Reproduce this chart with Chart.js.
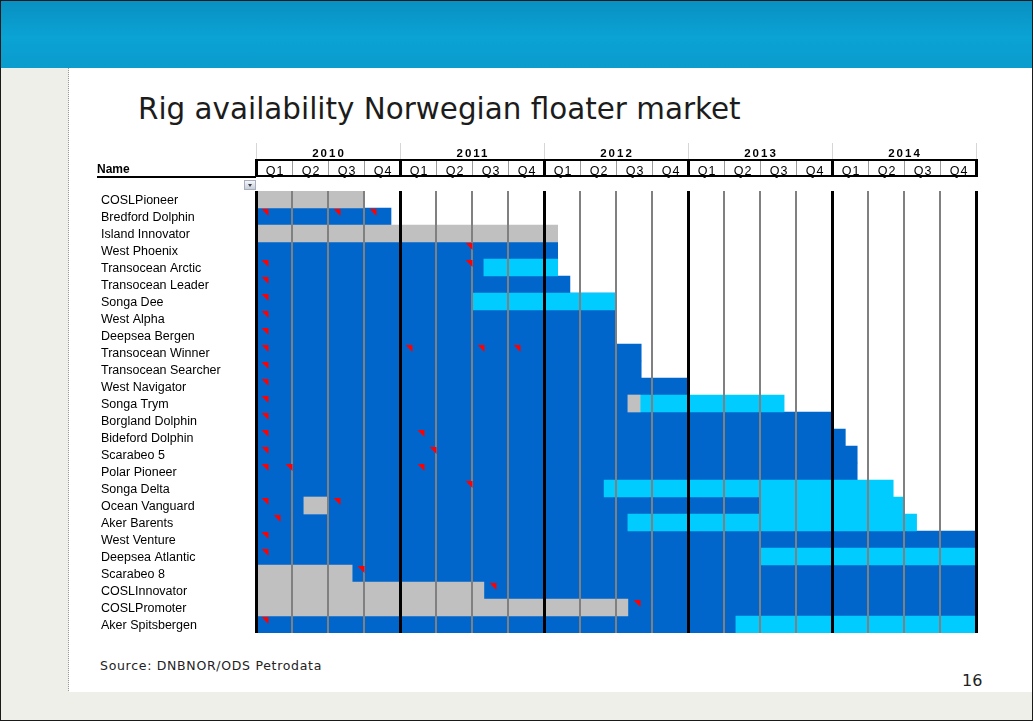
<!DOCTYPE html>
<html>
<head>
<meta charset="utf-8">
<script src="https://cdn.jsdelivr.net/npm/chart.js@4.4.1/dist/chart.umd.min.js"></script>
<style>
  html, body { margin: 0; padding: 0; }
  body { width: 1033px; height: 721px; position: relative; overflow: hidden; background: #fff; font-family: "Liberation Sans", Arial, sans-serif; }
  #banner { position: absolute; left: 0; top: 0; width: 1033px; height: 68px; background: linear-gradient(#0a8fc1, #0aa3d4 55%, #0a9ccd); }
  #leftbar { position: absolute; left: 0; top: 68px; width: 68px; height: 653px; background: #efefea; border-right: 1px dotted #9a9a9a; }
  #bottombar { position: absolute; left: 0; top: 692px; width: 1033px; height: 29px; background: #efefea; }
  #frame { position: absolute; left: 0; top: 0; width: 1031px; height: 719px; border: 1px solid #1a1a1a; }
  #title { position: absolute; left: 138px; top: 92px; font: 29.4px/34px "DejaVu Sans", Verdana, sans-serif; color: #1c1c1c; white-space: nowrap; }
  #source { position: absolute; left: 100px; top: 658px; font: 12.5px "DejaVu Sans", Verdana, sans-serif; letter-spacing: 0.7px; color: #222; }
  #page { position: absolute; left: 962px; top: 671px; font: 16px "DejaVu Sans", Verdana, sans-serif; color: #222; }
  #dropdown { position: absolute; left: 244px; top: 180px; width: 12px; height: 10px; background: linear-gradient(#f4f6fa, #c9ced8); border: 1px solid #a8aebb; box-sizing: border-box; }
  #dropdown:after { content: ""; position: absolute; left: 3px; top: 3px; border-left: 2.5px solid transparent; border-right: 2.5px solid transparent; border-top: 3px solid #3a3f4a; }
  #chart { position: absolute; left: 0; top: 0; }
</style>
</head>
<body>
<div id="banner"></div>
<div id="leftbar"></div>
<div id="bottombar"></div>
<div id="frame"></div>
<div id="title">Rig availability Norwegian floater market</div>
<div id="source">Source: DNBNOR/ODS Petrodata</div>
<div id="page">16</div>
<canvas id="chart" width="1033" height="721"></canvas>
<div id="dropdown"></div>
<script>
// rigs, top to bottom
const rigs = ['COSLPioneer', 'Bredford Dolphin', 'Island Innovator', 'West Phoenix', 'Transocean Arctic',
  'Transocean Leader', 'Songa Dee', 'West Alpha', 'Deepsea Bergen', 'Transocean Winner',
  'Transocean Searcher', 'West Navigator', 'Songa Trym', 'Borgland Dolphin', 'Bideford Dolphin',
  'Scarabeo 5', 'Polar Pioneer', 'Songa Delta', 'Ocean Vanguard', 'Aker Barents',
  'West Venture', 'Deepsea Atlantic', 'Scarabeo 8', 'COSLInnovator', 'COSLPromoter', 'Aker Spitsbergen'];

const years = ['2010', '2011', '2012', '2013', '2014'];
const quarters = ['Q1', 'Q2', 'Q3', 'Q4'];

// spans in quarters counted from 2010 Q1 start
const contractedSpans = [null, [0, 3.75], null, [0, 8.38], [0, 8.38], [0, 8.72], [0, 10], [0, 10], [0, 10],
  [0, 10.7], [0, 10.7], [0, 12], [0, 10.33], [0, 16], [0, 16.37], [0, 16.7], [0, 16.7], [0, 9.67],
  [0, 14], [0, 10.33], [0, 20], [0, 20], [0, 20], [0, 20], [0, 20], [0, 20]];
const optionSpans = [null, null, null, null, [6.33, 8.38], null, [6, 10], null, null, null, null, null,
  [10.67, 14.67], null, null, null, null, [9.67, 17.7], [14, 18], [10.33, 18.35], null, [14, 20],
  null, null, null, [13.33, 20]];
const idleSpans = [[0, 3], null, [0, 8.38], null, null, null, null, null, null, null, null, null,
  [10.33, 10.67], null, null, null, null, null, [1.33, 2], null, null, null, [0, 2.67], [0, 6.33],
  [0, 10.33], null];

// comment flags: rig row and month (1 = Jan 2010)
const flagRow =   [1, 1, 1, 3, 4, 4, 5, 6, 7, 8, 9, 9, 9, 9, 10, 11, 12, 13, 14, 14, 15, 15, 16, 16, 16, 17, 18, 18, 19, 20, 21, 22, 23, 24, 25];
const flagMonth = [1, 7, 10, 18, 1, 18, 1, 1, 1, 1, 1, 13, 19, 22, 1, 1, 1, 1, 1, 14, 1, 15, 1, 3, 14, 18, 1, 7, 2, 1, 1, 9, 20, 32, 1];

const ganttDecor = {
  id: 'ganttDecor',
  afterDraw(chart) {
    const ctx = chart.ctx;
    const x = chart.scales.x;
    const y = chart.scales.y;
    const rowH = y.getPixelForValue(1) - y.getPixelForValue(0);

    // comment flags
    ctx.save();
    ctx.fillStyle = '#ff0000';
    flagRow.forEach((r, i) => {
      const xr = Math.round(x.getPixelForValue(flagMonth[i] / 3)) + 0.5;
      const top = Math.round(y.getPixelForValue(r) - rowH / 2) + 1;
      ctx.beginPath();
      ctx.moveTo(xr - 7, top);
      ctx.lineTo(xr, top);
      ctx.lineTo(xr, top + 7);
      ctx.closePath();
      ctx.fill();
    });

    // header
    const hTop = 159, hBot = 177;
    const left = Math.round(x.getPixelForValue(0));
    const right = Math.round(x.getPixelForValue(20));
    ctx.fillStyle = '#d6d6d6';
    years.forEach((yr, i) => {
      ctx.fillRect(Math.round(x.getPixelForValue(i * 4)), 143, 1, hTop - 143);
    });
    ctx.fillRect(right, 143, 1, hTop - 143);

    ctx.fillStyle = '#fff';
    ctx.fillRect(left, hTop, right - left, hBot - hTop);
    ctx.fillStyle = '#9a9a9a';
    for (let q = 1; q < 20; q++) {
      if (q % 4 === 0) continue;
      ctx.fillRect(Math.round(x.getPixelForValue(q)), hTop, 1, hBot - hTop);
    }
    ctx.fillStyle = '#000';
    ctx.fillRect(left - 1, hTop, right - left + 3, 2);
    ctx.fillRect(left - 1, hBot - 2, right - left + 3, 2);
    for (let q = 0; q <= 20; q += 4) {
      ctx.fillRect(Math.round(x.getPixelForValue(q)) - 1, hTop, 3, hBot - hTop);
    }
    // underline under "Name"
    ctx.fillRect(97, hBot - 1, left - 97, 2);

    ctx.textBaseline = 'alphabetic';
    ctx.textAlign = 'center';
    ctx.fillStyle = '#000';
    ctx.font = 'bold 11.5px "Liberation Sans", Arial, sans-serif';
    ctx.letterSpacing = '2px';
    years.forEach((yr, i) => {
      ctx.fillText(yr, x.getPixelForValue(i * 4 + 2) + 1, 157);
    });
    ctx.font = '12.5px "Liberation Sans", Arial, sans-serif';
    ctx.letterSpacing = '1px';
    for (let q = 0; q < 20; q++) {
      ctx.fillText(quarters[q % 4], x.getPixelForValue(q + 0.5) + 1, 175);
    }
    ctx.letterSpacing = '0px';
    ctx.textAlign = 'left';
    ctx.font = 'bold 12px "Liberation Sans", Arial, sans-serif';
    ctx.fillText('Name', 97, 173);
    ctx.restore();
  }
};

const barBase = { borderWidth: 0, barPercentage: 1, categoryPercentage: 1 };

new Chart(document.getElementById('chart'), {
  type: 'bar',
  data: {
    labels: rigs,
    datasets: [
      { ...barBase, label: 'Idle', data: idleSpans, backgroundColor: '#c0c0c0', order: 1 },
      { ...barBase, label: 'Option', data: optionSpans, backgroundColor: '#00ccff', order: 2 },
      { ...barBase, label: 'Contracted', data: contractedSpans, backgroundColor: '#0066cc', order: 3 }
    ]
  },
  options: {
    indexAxis: 'y',
    responsive: false,
    animation: false,
    grouped: false,
    layout: { padding: { left: 101, right: 57, top: 191, bottom: 88 } },
    plugins: { legend: { display: false }, tooltip: { enabled: false } },
    scales: {
      x: {
        type: 'linear',
        min: 0,
        max: 20,
        ticks: { display: false, stepSize: 1 },
        border: { display: false },
        grid: {
          z: 1,
          drawTicks: false,
          color: (c) => (c.tick.value % 4 === 0 ? '#000000' : '#808080'),
          lineWidth: (c) => (c.tick.value % 4 === 0 ? 3 : 2)
        }
      },
      y: {
        grid: { display: false },
        border: { display: false },
        afterFit: (s) => { s.width = 155; },
        ticks: {
          autoSkip: false,
          crossAlign: 'far',
          padding: 0,
          labelOffset: 1.5,
          color: '#000',
          font: { family: '"Liberation Sans", Arial, sans-serif', size: 12.5 }
        }
      }
    }
  },
  plugins: [ganttDecor]
});
</script>
</body>
</html>
